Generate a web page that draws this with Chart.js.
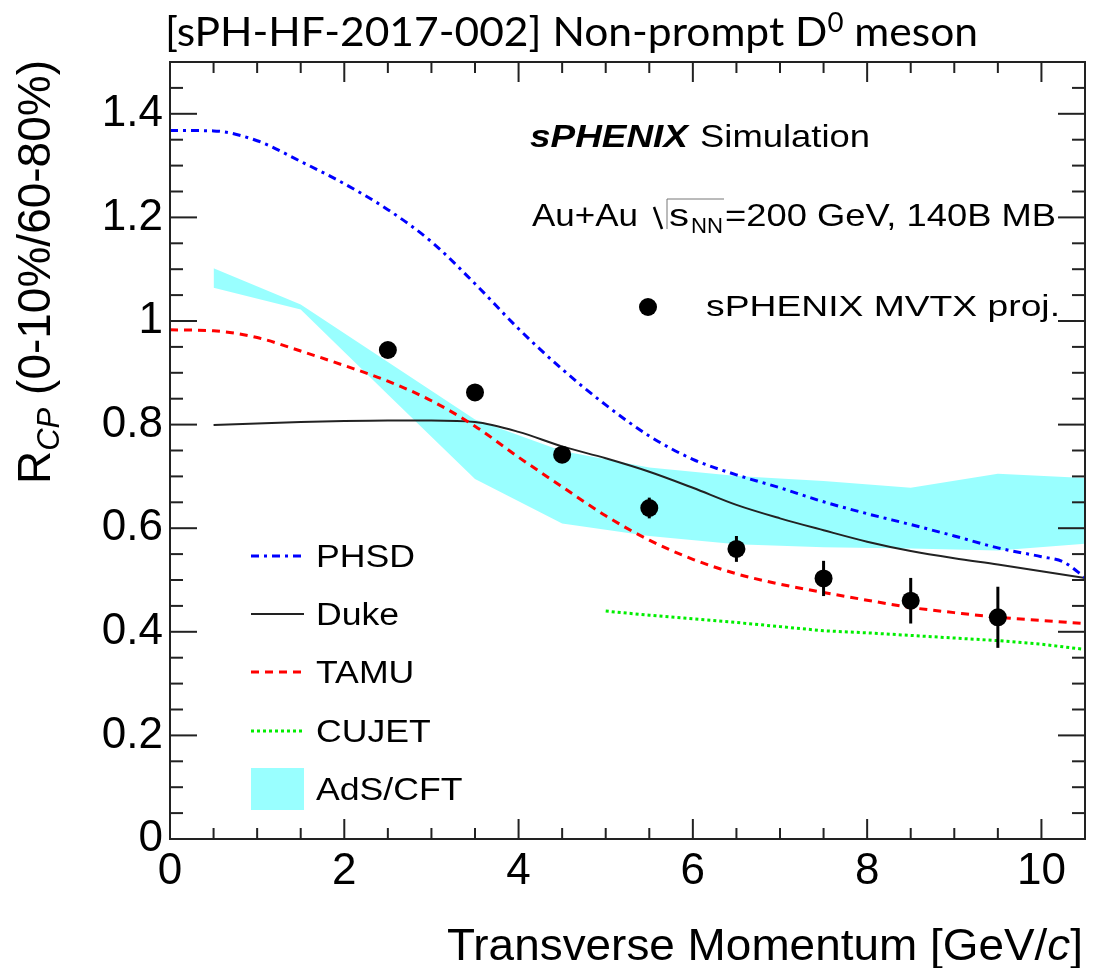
<!DOCTYPE html>
<html>
<head>
<meta charset="utf-8">
<title>Non-prompt D0 RCP</title>
<script src="https://cdn.jsdelivr.net/npm/chart.js@4.4.1/dist/chart.umd.min.js"></script>
<style>
    html, body { margin: 0; padding: 0; background: #fff; }
    #wrap { width: 1094px; height: 968px; }
</style>
</head>
<body>
<div id="wrap"><canvas id="rcpChart" width="1094" height="968"></canvas></div>
<script>
// ---- data ----
const ptBins   = [2.5, 3.5, 4.5, 5.5, 6.5, 7.5, 8.5, 9.5];
const mvtxRcp  = [0.944, 0.862, 0.742, 0.639, 0.560, 0.503, 0.460, 0.428];
const mvtxErr  = [0.008, 0.010, 0.014, 0.020, 0.025, 0.034, 0.044, 0.059];

const phsdPt   = [0, 0.5, 1, 1.5, 2, 2.5, 3, 3.5, 4, 4.5, 5, 5.5, 6, 6.5, 7, 7.5, 8, 8.5, 9, 9.5, 10, 10.25, 10.5];
const phsdRcp  = [1.368, 1.367, 1.348, 1.308, 1.265, 1.215, 1.153, 1.072, 0.985, 0.907, 0.838, 0.778, 0.733, 0.703, 0.678, 0.651, 0.628, 0.607, 0.585, 0.562, 0.545, 0.535, 0.505];

const dukePt   = [0.5, 1, 1.5, 2, 2.5, 3, 3.5, 4, 4.5, 5, 5.5, 6, 6.5, 7, 7.5, 8, 8.5, 9, 9.5, 10, 10.5];
const dukeRcp  = [0.799, 0.802, 0.805, 0.807, 0.808, 0.808, 0.805, 0.786, 0.758, 0.735, 0.709, 0.678, 0.645, 0.619, 0.596, 0.574, 0.556, 0.542, 0.530, 0.517, 0.504];

const tamuPt   = [0, 0.5, 1, 1.5, 2, 2.5, 3, 3.5, 4, 4.5, 5, 5.5, 6, 6.5, 7, 7.5, 8, 8.5, 9, 9.5, 10, 10.5];
const tamuRcp  = [0.983, 0.981, 0.968, 0.942, 0.914, 0.884, 0.846, 0.797, 0.737, 0.680, 0.624, 0.577, 0.540, 0.512, 0.492, 0.476, 0.461, 0.447, 0.437, 0.428, 0.422, 0.416];

const cujetPt  = [5, 5.5, 6, 6.5, 7, 7.5, 8, 8.5, 9, 9.5, 10, 10.5];
const cujetRcp = [0.440, 0.432, 0.425, 0.418, 0.410, 0.402, 0.398, 0.393, 0.388, 0.383, 0.376, 0.366];

const adsPt    = [0.5, 1.5, 2.5, 3.5, 4.5, 5.5, 6.5, 7.5, 8.5, 9.5, 10.5];
const adsHigh  = [1.102, 1.032, 0.921, 0.810, 0.749, 0.717, 0.701, 0.691, 0.678, 0.705, 0.697];
const adsLow   = [1.064, 1.022, 0.858, 0.695, 0.609, 0.585, 0.569, 0.563, 0.561, 0.557, 0.570];

const xTickLabels = [0, 2, 4, 6, 8, 10];
const yTickLabels = [0, 0.2, 0.4, 0.6, 0.8, 1, 1.2, 1.4];

const legendNames = ['PHSD', 'Duke', 'TAMU', 'CUJET', 'AdS/CFT'];

// ---- styles ----
const FONT = '"Liberation Sans", Arial, Helvetica, sans-serif';
const TITLE_FONT = 'Lato, "Noto Sans", sans-serif';
const CYAN = '#99ffff';
const BLUE = '#0000ff';
const RED = '#ff0000';
const GREEN = '#00ee00';
const DUKE = '#222222';
const DASH_PHSD = [8, 5, 3, 5];
const DASH_TAMU = [8, 6];
const DASH_CUJET = [3, 3];

const xy = (xs, ys) => xs.map((x, i) => ({ x: x, y: ys[i] }));

// draw several text runs on one baseline, squeezed/stretched to a target width
function drawRuns(ctx, runs, x0, y0, targetW, angle) {
    let total = 0;
    runs.forEach(r => { ctx.font = r.font; r.w = ctx.measureText(r.text).width; total += r.w; });
    const sx = targetW ? targetW / total : 1;
    ctx.save();
    ctx.translate(x0, y0);
    if (angle) ctx.rotate(angle);
    ctx.scale(sx, 1);
    ctx.fillStyle = '#000';
    ctx.textAlign = 'left';
    ctx.textBaseline = 'alphabetic';
    let cx = 0;
    runs.forEach(r => {
        ctx.font = r.font;
        ctx.fillText(r.text, cx, r.dy || 0);
        cx += r.w;
    });
    ctx.restore();
}

function seg(ctx, x1, y1, x2, y2) {
    ctx.beginPath();
    ctx.moveTo(x1, y1);
    ctx.lineTo(x2, y2);
    ctx.stroke();
}

const rootStyle = {
    id: 'rootStyle',
    afterDatasetsDraw(chart) {
        const { ctx, chartArea: a, scales: { x, y } } = chart;
        ctx.save();

        // error bars of the projection
        ctx.strokeStyle = '#000';
        ctx.lineWidth = 3;
        ptBins.forEach((pt, i) => {
            const px = x.getPixelForValue(pt);
            seg(ctx, px, y.getPixelForValue(mvtxRcp[i] - mvtxErr[i]), px, y.getPixelForValue(mvtxRcp[i] + mvtxErr[i]));
        });

        // frame + inward ticks on all four sides
        ctx.strokeStyle = '#222';
        ctx.lineWidth = 2;
        ctx.strokeRect(a.left, a.top, a.right - a.left, a.bottom - a.top);
        for (let k = 0; k <= 21; k++) {
            const px = x.getPixelForValue(k * 0.5);
            const len = (k % 4 === 0) ? 20 : 11;
            seg(ctx, px, a.bottom, px, a.bottom - len);
            seg(ctx, px, a.top, px, a.top + len);
        }
        for (let k = 0; k <= 30; k++) {
            const py = y.getPixelForValue(k * 0.05);
            const len = (k % 4 === 0) ? 27 : 13;
            seg(ctx, a.left, py, a.left + len, py);
            seg(ctx, a.right, py, a.right - len, py);
        }
        ctx.restore();
    },
    afterDraw(chart) {
        const ctx = chart.ctx;
        ctx.save();

        // title
        drawRuns(ctx, [
            { text: '[sPH-HF-2017-002] Non-prompt D', font: '40px ' + TITLE_FONT },
            { text: '0', font: '26px ' + TITLE_FONT, dy: -14 },
            { text: ' meson', font: '40px ' + TITLE_FONT }
        ], 165, 46, 813);

        // sPHENIX Simulation
        drawRuns(ctx, [{ text: 'sPHENIX', font: 'italic bold 32px ' + FONT }], 530, 147, 158);
        drawRuns(ctx, [{ text: 'Simulation', font: '32px ' + FONT }], 700, 147, 170);

        // Au+Au sqrt(sNN)=200 GeV, 140B MB
        drawRuns(ctx, [{ text: 'Au+Au', font: '32px ' + FONT }], 532, 226, 106);
        ctx.strokeStyle = '#000';
        ctx.lineWidth = 2.5;
        seg(ctx, 654, 207, 662, 229);
        ctx.lineWidth = 1;
        ctx.strokeStyle = '#777';
        seg(ctx, 667, 229, 667, 199);
        seg(ctx, 667, 199, 724, 199);
        drawRuns(ctx, [{ text: 's', font: '32px ' + FONT }], 669, 226, 20);
        drawRuns(ctx, [{ text: 'NN', font: '22px ' + FONT }], 691, 233, 32);
        drawRuns(ctx, [{ text: '=200 GeV, 140B MB', font: '32px ' + FONT }], 725, 226, 331);

        // data marker entry
        ctx.fillStyle = '#000';
        ctx.beginPath();
        ctx.arc(648, 307, 9, 0, Math.PI * 2);
        ctx.fill();
        drawRuns(ctx, [{ text: 'sPHENIX MVTX proj.', font: '30px ' + FONT }], 706, 316, 354);

        // legend of model curves
        const rowY = [556, 614, 672, 731, 789];
        const styles = [
            { color: BLUE, dash: DASH_PHSD, w: 3 },
            { color: DUKE, dash: [], w: 2 },
            { color: RED, dash: DASH_TAMU, w: 3 },
            { color: GREEN, dash: DASH_CUJET, w: 3 }
        ];
        styles.forEach((s, i) => {
            ctx.strokeStyle = s.color;
            ctx.lineWidth = s.w;
            ctx.setLineDash(s.dash);
            seg(ctx, 251, rowY[i], 304, rowY[i]);
        });
        ctx.setLineDash([]);
        ctx.fillStyle = CYAN;
        ctx.fillRect(251, 768, 53, 42);
        ctx.font = '31px ' + FONT;
        const sxLeg = 99 / ctx.measureText('PHSD').width;
        legendNames.forEach((name, i) => {
            ctx.font = '31px ' + FONT;
            const w = ctx.measureText(name).width * sxLeg;
            drawRuns(ctx, [{ text: name, font: '31px ' + FONT }], 316, rowY[i] + 11, w);
        });

        // axis titles
        drawRuns(ctx, [
            { text: 'Transverse Momentum [GeV/', font: '45px ' + FONT },
            { text: 'c', font: 'italic 45px ' + FONT },
            { text: ']', font: '45px ' + FONT }
        ], 447, 960, 636);

        drawRuns(ctx, [
            { text: 'R', font: '46px ' + FONT },
            { text: 'CP', font: 'italic 31px ' + FONT, dy: 9 },
            { text: ' (0-10%/60-80%)', font: '46px ' + FONT }
        ], 50, 484, 424, -Math.PI / 2);

        ctx.restore();
    }
};

const ctx = document.getElementById('rcpChart').getContext('2d');

// lower "order" is painted on top
new Chart(ctx, {
    type: 'line',
    data: {
        datasets: [
            {
                label: 'AdS/CFT low',
                data: xy(adsPt, adsLow),
                order: 6,
                borderWidth: 0,
                borderColor: 'rgba(0,0,0,0)',
                pointRadius: 0,
                fill: false,
                tension: 0
            },
            {
                label: 'AdS/CFT',
                data: xy(adsPt, adsHigh),
                order: 5,
                borderWidth: 0,
                borderColor: 'rgba(0,0,0,0)',
                backgroundColor: CYAN,
                pointRadius: 0,
                fill: '-1',
                tension: 0
            },
            {
                label: 'Duke',
                data: xy(dukePt, dukeRcp),
                order: 4,
                borderColor: DUKE,
                borderWidth: 2,
                pointRadius: 0,
                fill: false,
                cubicInterpolationMode: 'monotone'
            },
            {
                label: 'TAMU',
                data: xy(tamuPt, tamuRcp),
                order: 3,
                borderColor: RED,
                borderWidth: 3,
                borderDash: DASH_TAMU,
                pointRadius: 0,
                fill: false,
                cubicInterpolationMode: 'monotone'
            },
            {
                label: 'PHSD',
                data: xy(phsdPt, phsdRcp),
                order: 2,
                borderColor: BLUE,
                borderWidth: 3,
                borderDash: DASH_PHSD,
                pointRadius: 0,
                fill: false,
                cubicInterpolationMode: 'monotone'
            },
            {
                label: 'CUJET',
                data: xy(cujetPt, cujetRcp),
                order: 1,
                borderColor: GREEN,
                borderWidth: 3,
                borderDash: DASH_CUJET,
                pointRadius: 0,
                fill: false,
                tension: 0
            },
            {
                label: 'sPHENIX MVTX proj.',
                data: xy(ptBins, mvtxRcp),
                order: 0,
                showLine: false,
                pointRadius: 9,
                pointBackgroundColor: '#000',
                pointBorderWidth: 0,
                fill: false
            }
        ]
    },
    options: {
        responsive: false,
        devicePixelRatio: 1,
        animation: false,
        layout: { padding: { left: 0, top: 62, right: 6, bottom: 0 } },
        plugins: {
            legend: { display: false },
            tooltip: { enabled: false },
            title: { display: false }
        },
        scales: {
            x: {
                type: 'linear',
                min: 0,
                max: 10.5,
                afterBuildTicks: s => { s.ticks = xTickLabels.map(v => ({ value: v })); },
                afterFit: s => { s.height = 129; },
                grid: { display: false, drawTicks: false },
                border: { display: false },
                ticks: {
                    font: { family: FONT, size: 44 },
                    color: '#000',
                    padding: 6,
                    maxRotation: 0,
                    autoSkip: false,
                    callback: v => String(v)
                }
            },
            y: {
                type: 'linear',
                min: 0,
                max: 1.5,
                afterBuildTicks: s => { s.ticks = yTickLabels.map(v => ({ value: v })); },
                afterFit: s => { s.width = 170; },
                grid: { display: false, drawTicks: false },
                border: { display: false },
                ticks: {
                    font: { family: FONT, size: 44 },
                    color: '#000',
                    padding: 7,
                    autoSkip: false,
                    callback: v => String(+v.toFixed(1))
                }
            }
        }
    },
    plugins: [rootStyle]
});
</script>
</body>
</html>
